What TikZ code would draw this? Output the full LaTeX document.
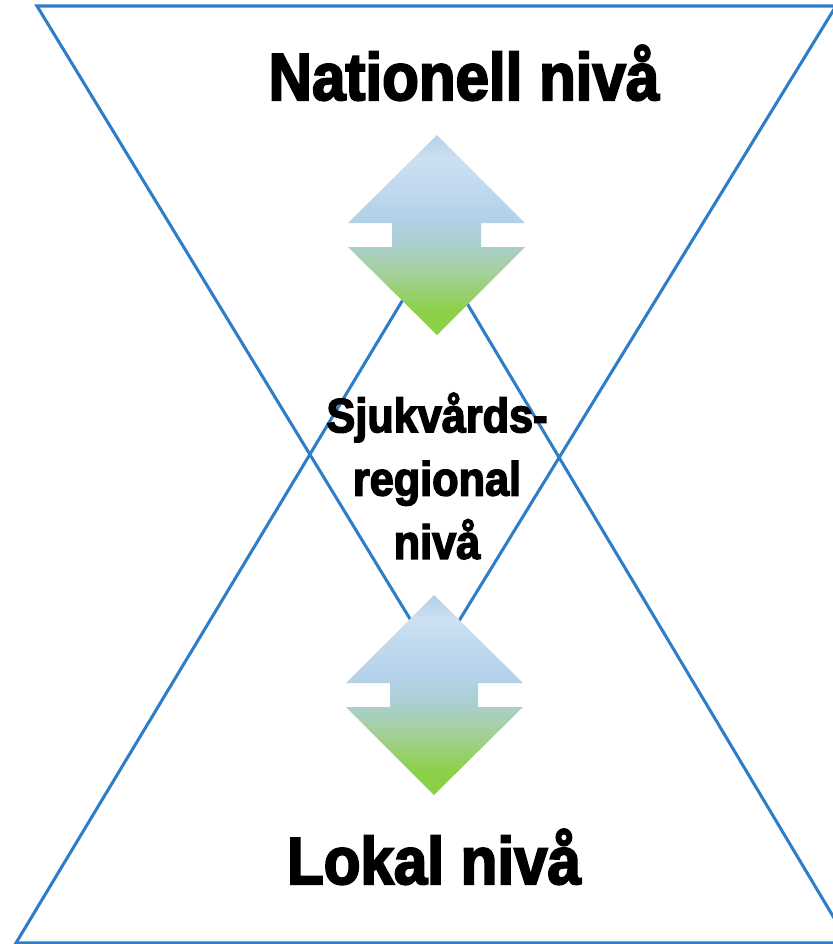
\documentclass[tikz,border=0pt]{standalone}
\usepackage{fontspec}
\newfontfamily\levelfont[FakeStretch=0.9,FakeBold=3]{Liberation Sans}

\definecolor{linkblue}{RGB}{46,125,200}
\definecolor{arrowtip}{RGB}{182,208,232}
\definecolor{arrowtop}{RGB}{204,224,241}
\definecolor{arrowblue}{RGB}{180,210,234}
\definecolor{arrowmid}{RGB}{170,207,208}
\definecolor{arrowlow}{RGB}{163,208,150}
\definecolor{arrowbot}{RGB}{140,208,72}

\pgfdeclareverticalshading{arrowfade}{100bp}{color(0bp)=(arrowbot); color(25bp)=(arrowbot);
  color(31bp)=(arrowbot); color(40bp)=(arrowlow); color(48bp)=(arrowmid);
  color(55bp)=(arrowblue); color(69bp)=(arrowtop); color(75bp)=(arrowtip); color(100bp)=(arrowtip)}

\tikzset{
  level/.style={inner sep=0pt, font=\levelfont\bfseries\fontsize{57}{60}\selectfont},
  sublevel/.style={inner sep=0pt, align=center, font=\levelfont\bfseries\fontsize{41}{54}\selectfont},
  flow/.style={shading=arrowfade, draw=none}
}

\begin{document}
\begin{tikzpicture}[x=0.3mm, y=-0.3mm, line width=2.6pt]
  \useasboundingbox (0,0) rectangle (833,944);
  \clip (0,0) rectangle (833,944);

  % the two triangles
  \draw[linkblue] (37,6) -- (836,6) -- (435,660) -- cycle;
  \draw[linkblue] (16,943) -- (849,943) -- (434,248) -- cycle;

  % up/down arrows
  \path[flow] (437,135) -- (525,223) -- (481,223) -- (481,247) -- (525,247) -- (437,335)
    -- (348,247) -- (392,247) -- (392,223) -- (348,223) -- cycle;
  \path[flow] (434,595) -- (523,683) -- (478,683) -- (478,707) -- (523,707) -- (434,795)
    -- (346,707) -- (390,707) -- (390,683) -- (346,683) -- cycle;

  % labels
  \node[level, anchor=base] (national) at (464,100) {Nationell nivå};
  \node[sublevel] (regional) at (437,476) {Sjukvårds-\\regional\\nivå};
  \node[level, anchor=base] (local) at (434,884) {Lokal nivå};
\end{tikzpicture}
\end{document}
